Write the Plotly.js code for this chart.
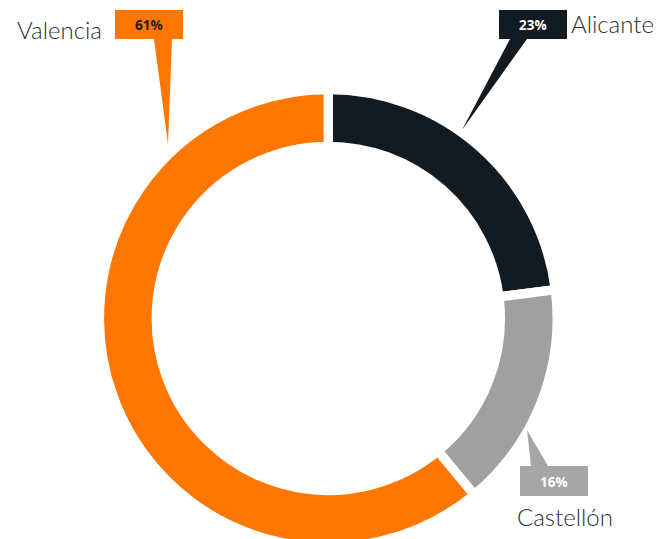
<!DOCTYPE html>
<html>
<head>
<meta charset="utf-8">
<script src="https://cdn.plot.ly/plotly-3.0.1.min.js"></script>
<style>
html,body{margin:0;padding:0;overflow:hidden;background:#fff;}
#chart{width:656px;height:548px;}
</style>
</head>
<body>
<div id="chart"></div>
<script>
// ---- data ----
const labels = ['Alicante', 'Castellón', 'Valencia'];
const values = [23, 16, 61];
const pctLabels = values.map(v => v + '%');

// ---- styling / layout config ----
const sliceColors = ['#121a22', '#a0a0a0', '#ff7600'];
const boxColors = ['#121a22', '#a6a6a6', '#ff7600'];
const boxTextColors = ['#ffffff', '#ffffff', '#1e1e1e'];
const W = 656, H = 548;
const cx = 328.3, cy = 318.4, Rvis = 224.2, rvis = 176.7, gap = 9.3;
const R = Rvis + gap / 2, r = rvis - gap / 2;

// callout geometry in pixels (box rect, pointer base, tip, name label)
const callouts = [
  {box: [499, 10, 567, 39], base: [510, 527, 39], tip: [462, 130], name: [569, 24, 'left']},
  {box: [520, 466, 588, 496], base: [531, 548, 466], tip: [527, 430], name: [515, 516, 'left']},
  {box: [115, 10, 183, 39], base: [154, 172, 39], tip: [168, 144], name: [104, 29, 'right']}
];

const px = x => x / W;
const py = y => 1 - y / H;

const trace = {
  type: 'pie',
  labels: labels,
  values: values,
  sort: false,
  direction: 'clockwise',
  rotation: 0,
  hole: r / R,
  textinfo: 'none',
  hoverinfo: 'skip',
  marker: {colors: sliceColors, line: {color: '#ffffff', width: gap}},
  domain: {x: [px(cx - R), px(cx + R)], y: [py(cy + R), py(cy - R)]},
  showlegend: false
};

const shapes = [];
const annotations = [];
callouts.forEach((c, i) => {
  const [x0, y0, x1, y1] = c.box;
  shapes.push({
    type: 'rect', xref: 'paper', yref: 'paper',
    x0: px(x0), x1: px(x1), y0: py(y1), y1: py(y0),
    fillcolor: boxColors[i], line: {width: 0}
  });
  const [b0, b1, by] = c.base;
  const [tx, ty] = c.tip;
  shapes.push({
    type: 'path', xref: 'paper', yref: 'paper',
    path: `M ${px(b0)} ${py(by)} L ${px(b1)} ${py(by)} L ${px(tx)} ${py(ty)} Z`,
    fillcolor: boxColors[i], line: {width: 0}
  });
  annotations.push({
    xref: 'paper', yref: 'paper',
    x: px((x0 + x1) / 2), y: py((y0 + y1) / 2 + 0.5),
    xanchor: 'center', yanchor: 'middle',
    text: '<b>' + pctLabels[i] + '</b>', showarrow: false,
    font: {family: 'Open Sans, sans-serif', size: 13.5, color: boxTextColors[i]}
  });
  annotations.push({
    xref: 'paper', yref: 'paper',
    x: px(c.name[0]), y: py(c.name[1]),
    xanchor: c.name[2], yanchor: 'middle',
    text: labels[i], showarrow: false,
    font: {family: 'Lato, sans-serif', size: 24, weight: 300, color: '#2b3038'}
  });
});

const layout = {
  width: W, height: H,
  margin: {l: 0, r: 0, t: 0, b: 0},
  paper_bgcolor: '#ffffff',
  plot_bgcolor: '#ffffff',
  shapes: shapes,
  annotations: annotations,
  showlegend: false
};

Plotly.newPlot('chart', [trace], layout, {displayModeBar: false, staticPlot: true});
</script>
</body>
</html>
